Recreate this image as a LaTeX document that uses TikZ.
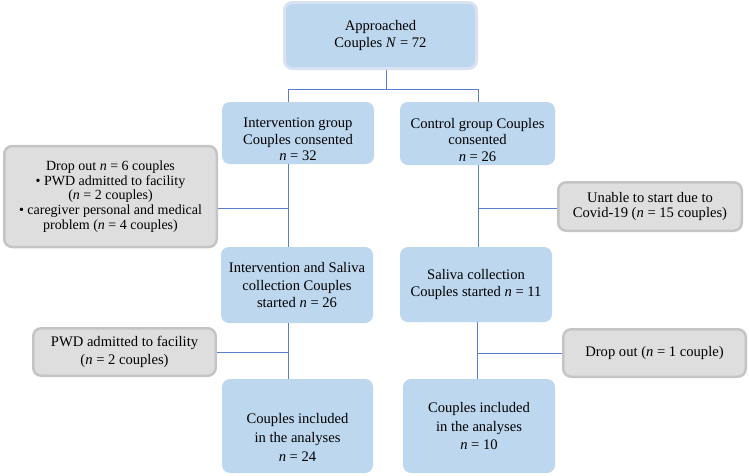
\documentclass[tikz,border=0pt]{standalone}
\usepackage{fontspec}
\setmainfont{Liberation Serif}
\definecolor{boxblue}{RGB}{189,215,238}
\definecolor{rimblue}{RGB}{216,226,243}
\definecolor{boxgray}{RGB}{222,222,222}
\definecolor{rimgray}{RGB}{196,196,196}
\definecolor{linkblue}{RGB}{88,128,206}
\begin{document}
\begin{tikzpicture}[x=1pt,y=-1pt,
    bluebox/.style={fill=boxblue,rounded corners=8pt,align=center,inner sep=0pt,
      font=\fontsize{14.6}{17.5}\selectfont},
    graybox/.style={fill=boxgray,draw=rimgray,line width=2.5pt,rounded corners=8pt,
      align=center,inner sep=0pt,font=\fontsize{14.6}{17.5}\selectfont},
    link/.style={draw=linkblue,line width=0.9pt}]
    \useasboundingbox (0,0) rectangle (749,475);

    \node[bluebox,draw=rimblue,line width=3pt,minimum width=192pt,minimum height=66pt] (approached) at (380.5,35.5) {Approached\\Couples \textit{N} = 72};

    \node[bluebox,minimum width=152pt,minimum height=62pt,text height=56pt,font=\fontsize{14.6}{16.5}\selectfont] (int1) at (298,133) {Intervention group\\Couples consented\\\textit{n} = 32};
    \node[bluebox,minimum width=155pt,minimum height=63pt,text height=56pt,font=\fontsize{14.6}{16.5}\selectfont] (ctl1) at (477.5,133.5) {Control group Couples\\consented\\\textit{n} = 26};

    \node[graybox,minimum width=212.5pt,minimum height=101pt,font=\fontsize{14}{14.8}\selectfont] (drop1) at (110.5,196.5) {Drop out \textit{n} = 6 couples\\• PWD admitted to facility\\(\textit{n} = 2 couples)\\• caregiver personal and medical\\problem (\textit{n} = 4 couples)};
    \node[graybox,minimum width=183.5pt,minimum height=48.5pt,font=\fontsize{14.6}{15.5}\selectfont] (unable) at (650,206.5) {Unable to start due to\\Covid-19 (\textit{n} = 15 couples)};

    \node[bluebox,minimum width=152pt,minimum height=76pt] (int2) at (297,285) {Intervention and Saliva\\collection Couples\\started \textit{n} = 26};
    \node[bluebox,minimum width=152pt,minimum height=75pt] (ctl2) at (476,284.5) {Saliva collection\\Couples started \textit{n} = 11};

    \node[graybox,minimum width=182.5pt,minimum height=47.5pt] (pwd) at (124.5,352) {PWD admitted to facility\\(\textit{n} = 2 couples)};
    \node[graybox,minimum width=182.5pt,minimum height=47.5pt] (drop2) at (654.5,353) {Drop out (\textit{n} = 1 couple)};

    \node[bluebox,minimum width=151pt,minimum height=94pt,text height=70pt,font=\fontsize{14.6}{19}\selectfont] (int3) at (297.5,426) {Couples included\\in the analyses\\\textit{n} = 24};
    \node[bluebox,minimum width=152pt,minimum height=94pt,font=\fontsize{14.6}{18.3}\selectfont] (ctl3) at (479,426) {Couples included\\in the analyses\\\textit{n} = 10};

    \coordinate (topdrop) at (386,89);
    \coordinate (lspine) at (288,89);
    \coordinate (rspine) at (478,89);
    \coordinate (lcut1) at (288,208);
    \coordinate (rcut1) at (478,208);
    \coordinate (lcut2) at (288,352);
    \coordinate (rcut2) at (477,353);

    \draw[link] (approached.south -| topdrop) -- (topdrop);
    \draw[link] (lspine) -- (rspine);
    \draw[link] (lspine) -- (lspine |- int1.north);
    \draw[link] (rspine) -- (rspine |- ctl1.north);

    \draw[link] (lcut1 |- int1.south) -- (lcut1 |- int2.north);
    \draw[link] (lcut1) -- (lcut1 -| drop1.east);
    \draw[link] (rcut1 |- ctl1.south) -- (rcut1 |- ctl2.north);
    \draw[link] (rcut1) -- (rcut1 -| unable.west);

    \draw[link] (lcut2 |- int2.south) -- (lcut2 |- int3.north);
    \draw[link] (lcut2) -- (lcut2 -| pwd.east);
    \draw[link] (rcut2 |- ctl2.south) -- (rcut2 |- ctl3.north);
    \draw[link] (rcut2) -- (rcut2 -| drop2.west);
\end{tikzpicture}
\end{document}
